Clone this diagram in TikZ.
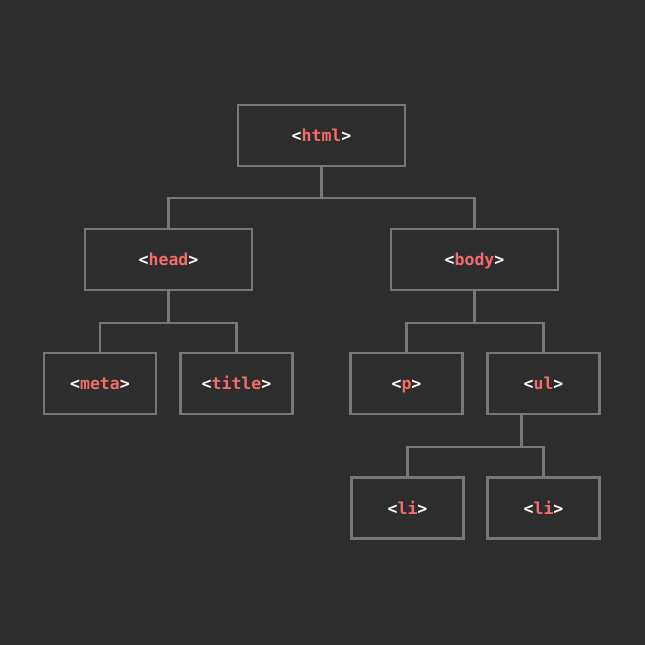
\documentclass[tikz,border=0pt]{standalone}
\usepackage{fontspec}
\setmonofont{DejaVu Sans Mono}
\usepackage{tikz}
\definecolor{bgdark}{HTML}{2D2D2D}
\definecolor{linegray}{HTML}{777777}
\definecolor{tagred}{HTML}{F46B6B}
\newcommand{\tagname}[1]{\textcolor{white}{<}\textcolor{tagred}{#1}\textcolor{white}{>}}

\begin{document}
\begin{tikzpicture}[x=0.02cm, y=-0.02cm,
							bigbox/.style={draw=linegray, line width=1.4pt, minimum width=3.34cm, minimum height=1.22cm, inner sep=0pt, text height=0.76em, text depth=0.04em, font=\ttfamily\bfseries\fontsize{9.4}{11}\selectfont},
							smallbox/.style={bigbox, minimum width=2.24cm},
							link/.style={draw=linegray, line width=1.4pt},
							]
							\fill[bgdark] (0,0) rectangle (645,645);
							\useasboundingbox (0,0) rectangle (645,645);
							%Nodes
							\node[bigbox]      (html)   at  (321.5,135.5)   {\tagname{html}};
							\node[bigbox]      (head)   at  (168.5,259.5)   {\tagname{head}};
							\node[bigbox]      (body)   at  (474.5,259.5)   {\tagname{body}};
							\node[smallbox]    (meta)   at  (100,383.5)     {\tagname{meta}};
							\node[smallbox]    (title)  at  (236.5,383.5)   {\tagname{title}};
							\node[smallbox]    (p)      at  (406.5,383.5)   {\tagname{p}};
							\node[smallbox]    (ul)     at  (543.5,383.5)   {\tagname{ul}};
							\node[smallbox]    (lia)    at  (407.5,508)     {\tagname{li}};
							\node[smallbox]    (lib)    at  (543.5,508)     {\tagname{li}};
							
							%Links
							\draw[link] (html.south) -- ++(0,31) -| (head.north);
							\draw[link] (html.south) -- ++(0,31) -| (body.north);
							\draw[link] (head.south) -- ++(0,32) -| (meta.north);
							\draw[link] (head.south) -- ++(0,32) -| (title.north);
							\draw[link] (body.south) -- ++(0,32) -| (p.north);
							\draw[link] (body.south) -- ++(0,32) -| (ul.north);
							\draw[link] (ul.south) ++(-22,0) -- ++(0,32) -| (lia.north);
							\draw[link] (ul.south) ++(-22,0) -- ++(0,32) -| (lib.north);
						\end{tikzpicture}
\end{document}
